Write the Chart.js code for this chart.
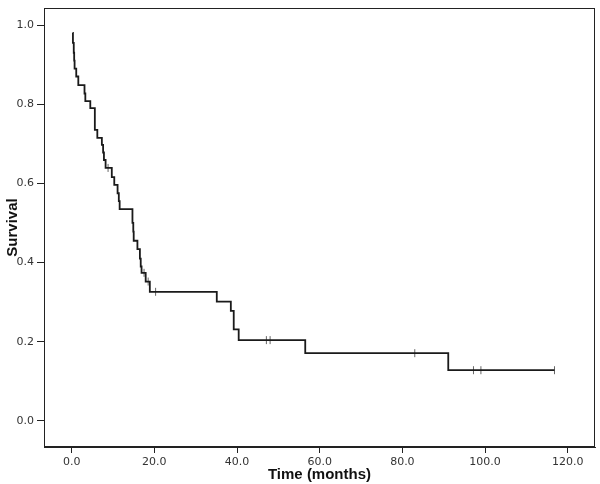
<!DOCTYPE html>
<html>
<head>
<meta charset="utf-8">
<script src="https://cdn.jsdelivr.net/npm/chart.js@4"></script>
<style>
  body { margin: 0; background: #fff; }
  #myChart { display: block; }
</style>
</head>
<body>
<canvas id="myChart" width="600" height="484"></canvas>
<script>
// Kaplan-Meier steps: survival after each event time (months)
var eventTimes = [0.2, 0.3, 0.5, 0.6, 0.7, 1.1, 1.6, 3.1, 3.3, 4.5, 5.6, 6.2, 7.3, 7.6, 7.8, 8.2,
    9.7, 10.3, 11.1, 11.4, 11.6, 14.7, 14.9, 15.0, 15.9, 16.5, 16.7, 16.9, 17.9, 18.9,
    35.1, 38.5, 39.2, 40.4, 56.5, 91.1, 116.8]
var survival = [0.98, 0.955, 0.93, 0.91, 0.89, 0.87, 0.848, 0.827, 0.808, 0.79, 0.735, 0.715, 0.697, 0.678, 0.659, 0.639,
    0.616, 0.596, 0.575, 0.555, 0.535, 0.5, 0.478, 0.455, 0.434, 0.41, 0.39, 0.374, 0.352, 0.326,
    0.301, 0.278, 0.231, 0.204, 0.171, 0.128, 0.128]

// censored observations
var censorTimes = [8.8, 17.5, 18.5, 20.3, 47.1, 48.0, 83.0, 97.2, 99.0, 116.8]
var censorSurvival = [0.639, 0.374, 0.352, 0.326, 0.204, 0.204, 0.171, 0.128, 0.128, 0.128]

var xTicks = [0, 20, 40, 60, 80, 100, 120]
var yTicks = [0, 0.2, 0.4, 0.6, 0.8, 1.0]

var curve = []
for (var i = 0; i < eventTimes.length; i++) {
    curve.push({x: eventTimes[i], y: survival[i]})
}
var censored = []
for (var j = 0; j < censorTimes.length; j++) {
    censored.push({x: censorTimes[j], y: censorSurvival[j]})
}

var frame = {
    id: 'frame',
    afterDraw: function(chart) {
        var a = chart.chartArea
        var c = chart.ctx
        c.save()
        c.strokeStyle = '#222'
        c.lineWidth = 1
        c.strokeRect(Math.round(a.left) + 0.5, Math.round(a.top) + 0.5, Math.round(a.right - a.left) - 1, Math.round(a.bottom - a.top) - 1)
        c.restore()
    }
}

var ctx = document.getElementById('myChart').getContext('2d');
var chart = new Chart(ctx, {
    type: 'line',
    data: {
        datasets: [{
            label: 'Survival',
            data: curve,
            stepped: 'before',
            borderColor: '#1a1a1a',
            borderWidth: 1.8,
            pointRadius: 0,
            fill: false
        }, {
            label: 'Censored',
            data: censored,
            showLine: false,
            pointStyle: 'line',
            rotation: 90,
            pointRadius: 4,
            borderColor: '#666',
            borderWidth: 1,
            backgroundColor: '#666'
        }]
    },
    options: {
        responsive: false,
        animation: false,
        layout: { padding: { top: 8, right: 2, left: 2, bottom: 0 } },
        plugins: { legend: { display: false }, tooltip: { enabled: false } },
        scales: {
            x: {
                type: 'linear',
                min: -6.7,
                max: 126.6,
                afterBuildTicks: function(scale) {
                    scale.ticks = xTicks.map(function(v) { return {value: v} })
                },
                afterFit: function(scale) {
                    scale.height = 37
                    scale.paddingLeft = 0
                    scale.paddingRight = 0
                },
                grid: { drawOnChartArea: false, tickLength: 6, color: '#222' },
                border: { color: '#222' },
                ticks: {
                    padding: 3,
                    color: '#333',
                    font: { family: 'DejaVu Sans', size: 11 },
                    callback: function(v) { return v.toFixed(1) }
                },
                title: {
                    display: true,
                    text: 'Time (months)',
                    color: '#111',
                    font: { family: 'Liberation Sans', size: 15, weight: 'bold' },
                    padding: { top: 2, bottom: 0 }
                }
            },
            y: {
                type: 'linear',
                min: -0.066,
                max: 1.043,
                afterBuildTicks: function(scale) {
                    scale.ticks = yTicks.map(function(v) { return {value: v} })
                },
                afterFit: function(scale) {
                    scale.width = 42
                    scale.paddingTop = 0
                    scale.paddingBottom = 0
                },
                grid: { drawOnChartArea: false, tickLength: 7, color: '#222' },
                border: { color: '#222' },
                ticks: {
                    padding: 3,
                    color: '#333',
                    font: { family: 'DejaVu Sans', size: 11 },
                    callback: function(v) { return v.toFixed(1) }
                },
                title: {
                    display: true,
                    text: 'Survival',
                    color: '#111',
                    font: { family: 'Liberation Sans', size: 15, weight: 'bold' },
                    padding: { top: 2, bottom: 0 }
                }
            }
        }
    },
    plugins: [frame]
});
</script>
</body>
</html>
